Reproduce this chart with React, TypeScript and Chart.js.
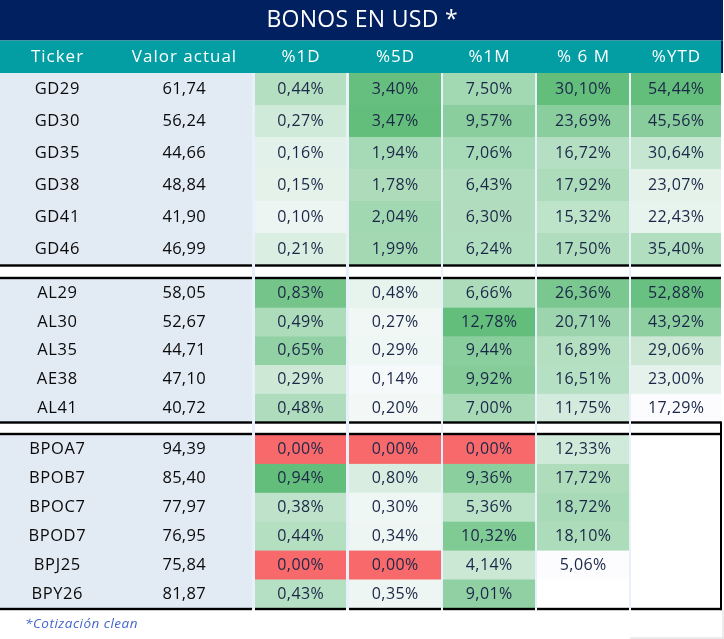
import React, { useEffect, useRef } from "react";
import { Chart, registerables } from "chart.js";

Chart.register(...registerables);

// ---------- DATA ----------
const title = "BONOS EN USD *";
const footnote = "*Cotización clean";
const headers = ["Ticker", "Valor actual", "%1D", "%5D", "%1M", "% 6 M", "%YTD"];
const tickers = ["GD29", "GD30", "GD35", "GD38", "GD41", "GD46", "AL29", "AL30", "AL35", "AE38", "AL41", "BPOA7", "BPOB7", "BPOC7", "BPOD7", "BPJ25", "BPY26"];
const groupSizes = [6, 5, 6];
const valorActual = [61.74, 56.24, 44.66, 48.84, 41.9, 46.99, 58.05, 52.67, 44.71, 47.1, 40.72, 94.39, 85.4, 77.97, 76.95, 75.84, 81.87];
const var1D = [0.44, 0.27, 0.16, 0.15, 0.1, 0.21, 0.83, 0.49, 0.65, 0.29, 0.48, 0.0, 0.94, 0.38, 0.44, 0.0, 0.43];
const var5D = [3.4, 3.47, 1.94, 1.78, 2.04, 1.99, 0.48, 0.27, 0.29, 0.14, 0.2, 0.0, 0.8, 0.3, 0.34, 0.0, 0.35];
const var1M = [7.5, 9.57, 7.06, 6.43, 6.3, 6.24, 6.66, 12.78, 9.44, 9.92, 7.0, 0.0, 9.36, 5.36, 10.32, 4.14, 9.01];
const var6M: (number | null)[] = [30.1, 23.69, 16.72, 17.92, 15.32, 17.5, 26.36, 20.71, 16.89, 16.51, 11.75, 12.33, 17.72, 18.72, 18.1, 5.06, null];
const varYTD: (number | null)[] = [54.44, 45.56, 30.64, 23.07, 22.43, 35.4, 52.88, 43.92, 29.06, 23.0, 17.29, null, null, null, null, null, null];

// ---------- LAYOUT / STYLE ----------
const W = 724;
const H = 639;
const FONT = '"Open Sans", "Noto Sans", sans-serif';
const NAVY = "#002060";
const TEAL = "#029ea4";
const LEFT_BG = "#e2eaf4";
const GAP_BG = "#e8f1fb";
const TXT_PCT = "#1b2748";
const TXT_MAIN = "#0a0a0a";
const RED = [248, 105, 107];
const MINC = [252, 252, 255];
const MAXC = [99, 190, 123];

const TITLE_BAND = [0, 40.5];
const HEADER_BAND = [40.5, 73];
const TABLE_TOP = 73;
const TABLE_BOTTOM = 609.5;
const LEFT_SPAN = [0, 252];
const TICKER_CX = 57;
const VALOR_CX = 184;
const PCT_SPANS = [
  [255, 346],
  [349, 441],
  [443, 535],
  [537, 629],
  [631, 721],
];
const SECTIONS = [
  { top: 73, rowH: 32 },
  { top: 279, rowH: 28.7 },
  { top: 435, rowH: 28.9 },
];
const RULES = [265.5, 278, 422.5, 434, 609];
const WHITE_BANDS = [
  [266.5, 277],
  [423.5, 433],
];

const pctCols = [var1D, var5D, var1M, var6M, varYTD];

function fmt(v: number) {
  return v.toFixed(2).replace(".", ",");
}

function colorFor(v: number, col: (number | null)[]) {
  if (v === 0) return `rgb(${RED.join(",")})`;
  const vals = col.filter((x) => x !== null) as number[];
  const mn = Math.min(...vals);
  const mx = Math.max(...vals);
  const t = mx === mn ? 1 : (v - mn) / (mx - mn);
  const c = MINC.map((a, i) => Math.round(a + (MAXC[i] - a) * t));
  return `rgb(${c.join(",")})`;
}

const tablePlugin = {
  id: "tablePlugin",
  afterDraw(chart: any) {
    const ctx: CanvasRenderingContext2D = chart.ctx;
    const xs = chart.scales.x;
    const ys = chart.scales.y;
    const X = (v: number) => xs.getPixelForValue(v);
    const Y = (v: number) => ys.getPixelForValue(v);
    const rect = (x0: number, y0: number, x1: number, y1: number, fill: string) => {
      ctx.fillStyle = fill;
      ctx.fillRect(X(x0), Y(y0), X(x1) - X(x0), Y(y1) - Y(y0));
    };
    const text = (s: string, x: number, y: number, size: number, color: string, spacing = 0, style = "") => {
      ctx.font = `${style} ${size}px ${FONT}`.trim();
      (ctx as any).letterSpacing = `${spacing}px`;
      ctx.fillStyle = color;
      ctx.textAlign = "center";
      ctx.textBaseline = "middle";
      ctx.fillText(s, X(x) + spacing / 2, Y(y));
      (ctx as any).letterSpacing = "0px";
    };

    ctx.save();
    rect(0, 0, W, H, "#ffffff");
    rect(0, TITLE_BAND[0], 723, TITLE_BAND[1], NAVY);
    text(title, 362, 20, 23, "#ffffff", 0.3);
    rect(0, HEADER_BAND[0], 721, HEADER_BAND[1], TEAL);
    rect(721, HEADER_BAND[0], 723, HEADER_BAND[1], NAVY);
    const headerCenters = [TICKER_CX, VALOR_CX, ...PCT_SPANS.map((s) => (s[0] + s[1]) / 2)];
    headers.forEach((h, i) => text(h, headerCenters[i], 57, 17, "#ffffff", 1));

    rect(0, TABLE_TOP, 721, TABLE_BOTTOM, GAP_BG);
    rect(LEFT_SPAN[0], TABLE_TOP, LEFT_SPAN[1], TABLE_BOTTOM, LEFT_BG);

    let idx = 0;
    groupSizes.forEach((n, g) => {
      const sec = SECTIONS[g];
      for (let r = 0; r < n; r++, idx++) {
        const y0 = sec.top + r * sec.rowH;
        const y1 = y0 + sec.rowH;
        const cy = (y0 + y1) / 2;
        text(tickers[idx], TICKER_CX, cy, 16.5, TXT_MAIN, 0.6);
        text(fmt(valorActual[idx]), VALOR_CX, cy, 16.5, TXT_MAIN, 0.3);
        pctCols.forEach((col, c) => {
          const v = col[idx];
          const [x0, x1] = PCT_SPANS[c];
          rect(x0, y0, x1, y1 + 0.5, v === null ? "#ffffff" : colorFor(v, col));
          if (v !== null) text(fmt(v) + "%", (x0 + x1) / 2, cy, 16, TXT_PCT, 0.4);
        });
      }
    });

    const spans = [LEFT_SPAN, ...PCT_SPANS];
    WHITE_BANDS.forEach(([a, b]) => spans.forEach(([x0, x1]) => rect(x0, a, x1, b, "#ffffff")));
    RULES.forEach((ry) => spans.forEach(([x0, x1]) => rect(x0, ry - 1.2, x1, ry + 1.2, "#000000")));
    rect(720, 421.5, 722, 610.2, "#000000");
    rect(630, 637.5, 723.5, 638.5, "#d9d9d9");
    rect(722.5, 610, 723.5, 638.5, "#d9d9d9");

    ctx.font = `italic 13.5px ${FONT}`;
    (ctx as any).letterSpacing = "0.5px";
    ctx.fillStyle = "#4466cc";
    ctx.textAlign = "left";
    ctx.textBaseline = "middle";
    ctx.fillText(footnote, X(25), Y(624));
    (ctx as any).letterSpacing = "0px";
    ctx.restore();
  },
};

export default function App() {
  const ref = useRef<HTMLCanvasElement | null>(null);
  useEffect(() => {
    document.body.style.margin = "0";
    if (!ref.current) return;
    const chart = new Chart(ref.current, {
      type: "scatter",
      data: { datasets: [{ data: [], pointRadius: 0 }] },
      options: {
        animation: false,
        responsive: false,
        devicePixelRatio: 1,
        layout: { padding: 0 },
        plugins: { legend: { display: false }, tooltip: { enabled: false } },
        scales: {
          x: { type: "linear", min: 0, max: W, display: false },
          y: { type: "linear", min: 0, max: H, reverse: true, display: false },
        },
      },
      plugins: [tablePlugin],
    } as any);
    return () => chart.destroy();
  }, []);
  return (
    <div style={{ width: W, height: H }}>
      <canvas ref={ref} width={W} height={H} style={{ display: "block" }} />
    </div>
  );
}
